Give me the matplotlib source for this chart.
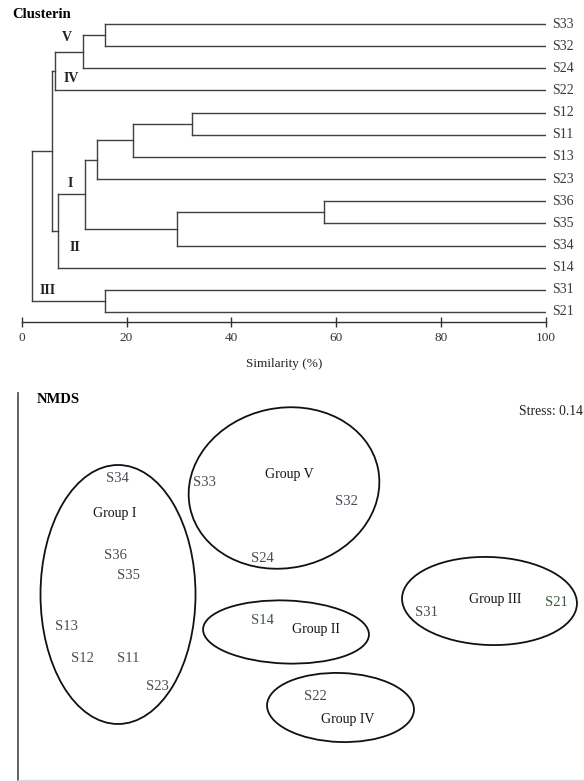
import matplotlib
matplotlib.use("Agg")
import matplotlib.pyplot as plt
from matplotlib.patches import Ellipse

plt.rcParams['font.family'] = ['Liberation Serif', 'DejaVu Serif']

W, H = 584, 781

# ---- cluster analysis (similarity %) ----
leaves = ['S33', 'S32', 'S24', 'S22', 'S12', 'S11', 'S13',
          'S23', 'S36', 'S35', 'S34', 'S14', 'S31', 'S21']
# linkage style: ids 0-13 are leaves, each merge gets the next id
merge_a = [8, 4, 14, 15, 12, 0, 17, 20, 19, 21, 22, 24, 25]
merge_b = [9, 5, 10, 6, 13, 1, 7, 16, 2, 11, 3, 23, 18]
merge_sim = [57.7, 32.4, 29.7, 21.2, 15.9, 15.8, 14.3, 12.1, 11.6, 6.9, 6.4, 5.7, 2.0]

cluster_names = ['V', 'IV', 'I', 'II', 'III']
cluster_x = [8.6, 9.4, 9.2, 10.2, 5.0]
cluster_y = [0.63, 2.48, 7.18, 10.1, 12.05]

# ---- NMDS ordination ----
samples = ['S34', 'S36', 'S35', 'S13', 'S12', 'S11', 'S23',
           'S33', 'S24', 'S32', 'S14', 'S22', 'S31', 'S21']
nmds1 = [99, 97, 110, 48, 64, 110, 139, 186, 244, 328, 244, 297, 408, 538]
nmds2 = [301, 224, 204, 154, 121, 121, 94, 297, 221, 278, 159, 84, 168, 177]
green_samples = ['S12', 'S11', 'S14', 'S21']

groups = ['Group I', 'Group V', 'Group II', 'Group IV', 'Group III']
group_lx = [97, 271, 298, 330, 477]
group_ly = [267, 305, 150, 60, 180]
ell_cx = [100, 266, 268, 322.5, 471.5]
ell_cy = [185.5, 292, 148, 72.5, 179]
ell_w = [155, 192, 166, 147, 175]
ell_h = [259, 160, 63, 69, 88]
ell_ang = [0, 12, -2, -2, -2]

fig = plt.figure(figsize=(W / 100, H / 100), dpi=100)

# dendrogram panel
spacing = 22.15
top_px, axis_px = 24, 322
ax1 = fig.add_axes([21.7 / W, 1 - axis_px / H, 524.3 / W, axis_px / H])
ax1.set_xlim(0, 100)
ax1.set_ylim((axis_px - top_px) / spacing, -top_px / spacing)

pos = {i: (100.0, float(i)) for i in range(len(leaves))}
line_col = '#404040'
for k, (a, b, h) in enumerate(zip(merge_a, merge_b, merge_sim)):
    xa, ya = pos[a]
    xb, yb = pos[b]
    ax1.plot([h, h], [ya, yb], color=line_col, lw=1.0)
    ax1.plot([h, xa], [ya, ya], color=line_col, lw=1.0)
    ax1.plot([h, xb], [yb, yb], color=line_col, lw=1.0)
    pos[len(leaves) + k] = (h, (ya + yb) / 2)

for i, name in enumerate(leaves):
    ax1.text(101.2, i, name, fontsize=10, color='#3a3a3a',
             va='center', ha='left', clip_on=False)

for name, x, y in zip(cluster_names, cluster_x, cluster_y):
    ax1.text(x, y, name, fontsize=10, fontweight='bold', color='#222222',
             ha='center', va='center')

for s in ['top', 'right', 'left']:
    ax1.spines[s].set_visible(False)
ax1.spines['bottom'].set_color('#333333')
ax1.spines['bottom'].set_linewidth(1.0)
ax1.set_yticks([])
ax1.set_xticks([0, 20, 40, 60, 80, 100])
ax1.tick_params(axis='x', direction='inout', length=7, width=1.0,
                color='#333333', labelsize=9.5, labelcolor='#333333', pad=4)
ax1.set_xlabel('Similarity (%)', fontsize=9.5, color='#222222', labelpad=10)

fig.text(12 / W, 1 - 15 / H, 'Clusterin', fontsize=10.5, fontweight='bold',
         va='center', ha='left')

# NMDS panel
left_px, bot_px, top2_px = 18, 780, 393
ax2 = fig.add_axes([left_px / W, 1 - bot_px / H, (W - left_px) / W,
                    (bot_px - top2_px) / H])
ax2.set_xlim(0, W - left_px)
ax2.set_ylim(0, bot_px - top2_px)
for s in ['top', 'right']:
    ax2.spines[s].set_visible(False)
ax2.spines['left'].set_color('#555555')
ax2.spines['left'].set_linewidth(1.3)
ax2.spines['bottom'].set_color('#d8d8d8')
ax2.set_xticks([])
ax2.set_yticks([])

for cx, cy, w, h, ang in zip(ell_cx, ell_cy, ell_w, ell_h, ell_ang):
    ax2.add_patch(Ellipse((cx, cy), w, h, angle=ang, fill=False,
                          edgecolor='#111111', lw=1.3))

for name, x, y in zip(samples, nmds1, nmds2):
    col = '#3f5a42' if name in green_samples else '#4a4a55'
    ax2.text(x, y, name, fontsize=10.5, color=col, ha='center', va='center')

for name, x, y in zip(groups, group_lx, group_ly):
    ax2.text(x, y, name, fontsize=10, color='#111111', ha='center', va='center')

ax2.text(19, 380, 'NMDS', fontsize=10.5, fontweight='bold', ha='left', va='center')
ax2.text(565, 368, 'Stress: 0.14', fontsize=9.8, color='#222222',
         ha='right', va='center')

fig.savefig('out.png', dpi=100)
